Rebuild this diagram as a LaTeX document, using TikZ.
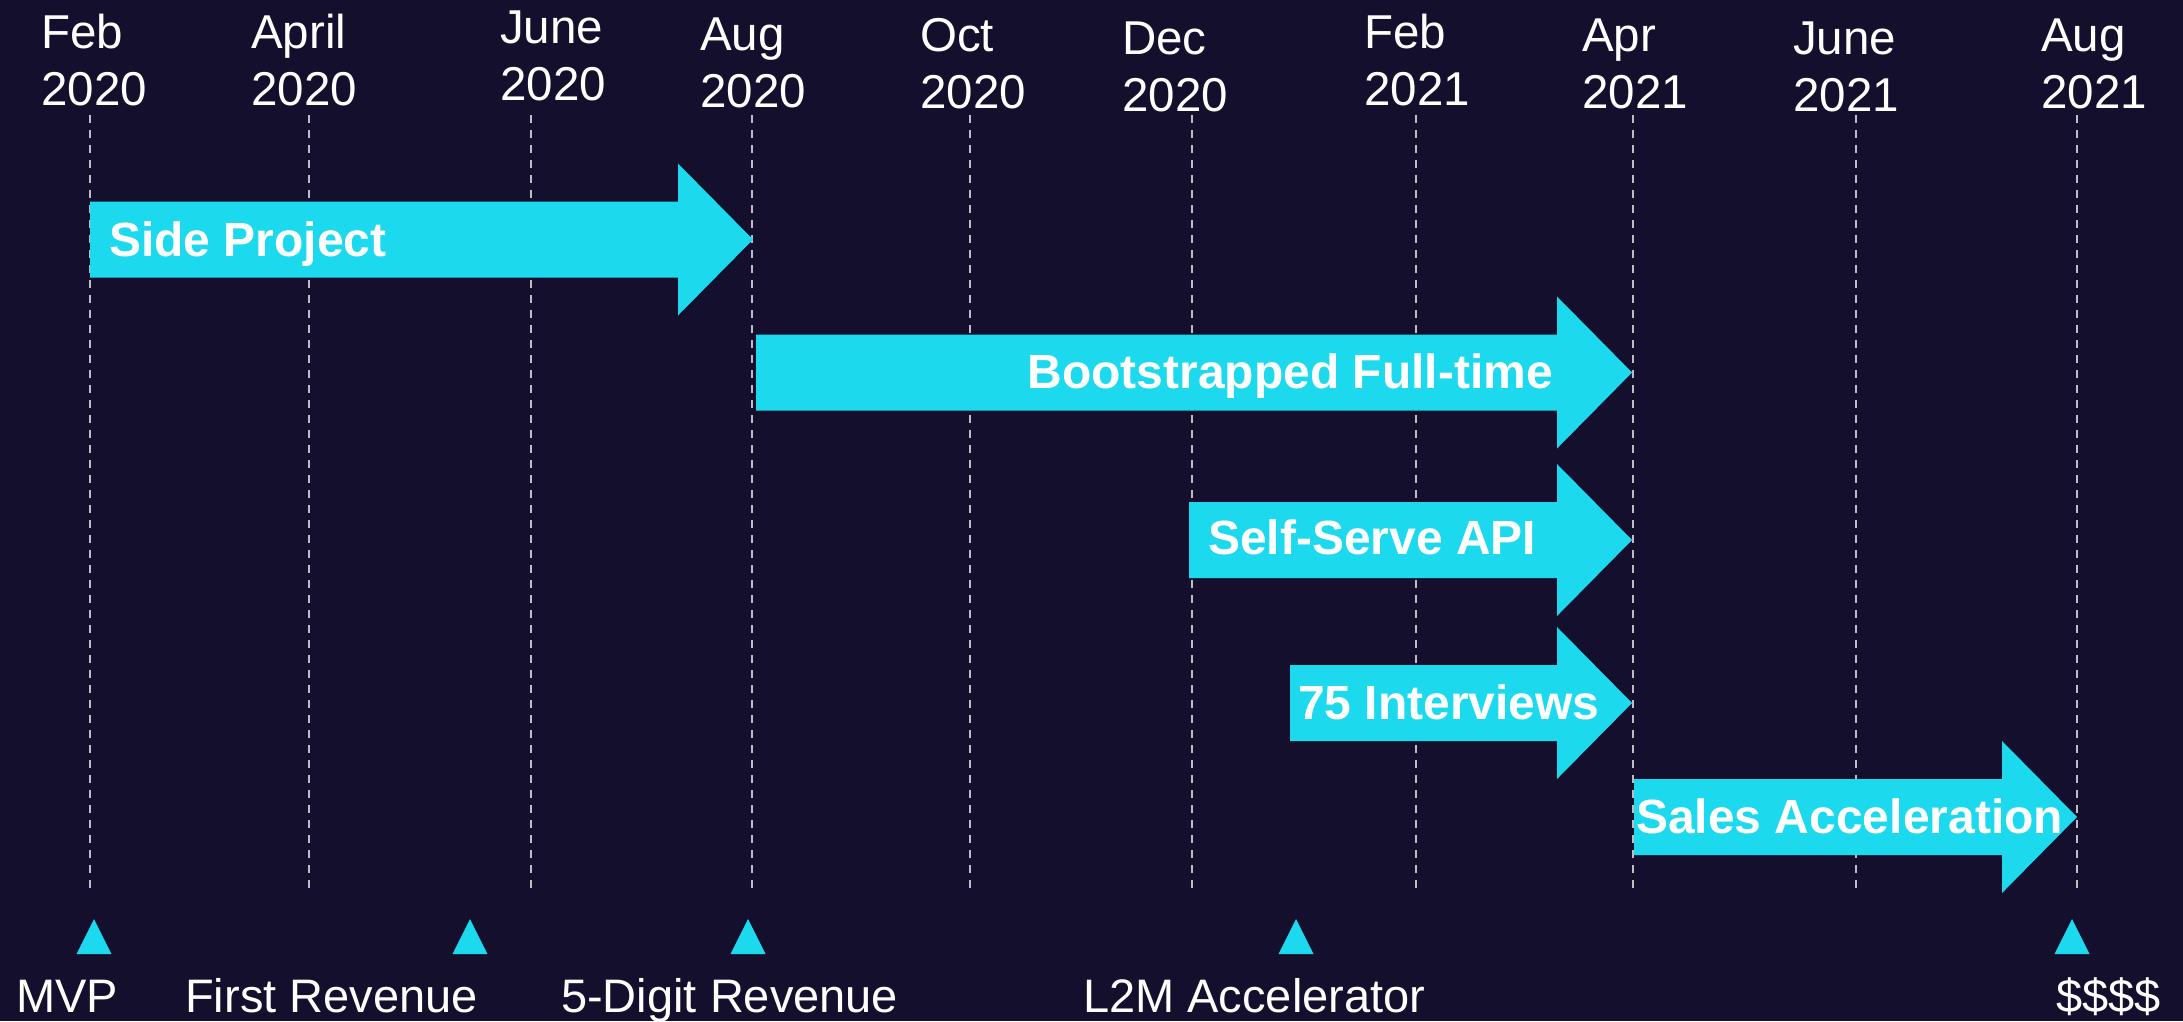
\documentclass[tikz,border=0pt]{standalone}
\usepackage{fontspec}
\setmainfont{Liberation Sans}
\definecolor{bgnavy}{HTML}{150F2E}
\definecolor{phasecyan}{HTML}{1DD9EE}
\definecolor{gridgray}{HTML}{BDBDC3}

% one phase bar: start x, tip x, centre y
\newcommand\phasearrow[3]{%
  \fill[phase] (#1,#3-38) -- (#2-75,#3-38) -- (#2-75,#3-76) -- (#2,#3)
    -- (#2-75,#3+76) -- (#2-75,#3+38) -- (#1,#3+38) -- cycle;}
% one milestone marker: apex x
\newcommand\milemark[1]{%
  \fill[milestone] (#1,919) -- (#1+17.5,954) -- (#1-17.5,954) -- cycle;}

\begin{document}
\begin{tikzpicture}[x=1pt,y=-1pt,
  datelbl/.style={anchor=base west, text=white, inner sep=0pt,
    font=\fontsize{47.5}{56}\selectfont},
  phaselbl/.style={text=white, inner sep=0pt,
    font=\bfseries\fontsize{48}{56}\selectfont},
  milelbl/.style={anchor=base west, text=white, inner sep=0pt,
    font=\fontsize{47}{56}\selectfont},
  gridline/.style={draw=gridgray, line width=1.8pt, dash pattern=on 8pt off 7pt},
  phase/.style={fill=phasecyan},
  milestone/.style={fill=phasecyan}]

\useasboundingbox (0,0) rectangle (2183,1021);
\fill[bgnavy] (0,0) rectangle (2183,1021);

% month grid
\foreach \gx in {90,309,531,752,970,1192,1416,1633,1856,2077}
  \draw[gridline] (\gx,115) -- (\gx,888);

% month / year headings
\node[datelbl] (m1) at (41,48)    {Feb};   \node[datelbl] (y1) at (41,105)   {2020};
\node[datelbl] (m2) at (251,48)   {April}; \node[datelbl] (y2) at (251,105)  {2020};
\node[datelbl] (m3) at (500,43)   {June};  \node[datelbl] (y3) at (500,100)  {2020};
\node[datelbl] (m4) at (700,50)   {Aug};   \node[datelbl] (y4) at (700,107)  {2020};
\node[datelbl] (m5) at (920,51)   {Oct};   \node[datelbl] (y5) at (920,108)  {2020};
\node[datelbl] (m6) at (1122,54)  {Dec};   \node[datelbl] (y6) at (1122,111) {2020};
\node[datelbl] (m7) at (1364,48)  {Feb};   \node[datelbl] (y7) at (1364,105) {2021};
\node[datelbl] (m8) at (1582,51)  {Apr};   \node[datelbl] (y8) at (1582,108) {2021};
\node[datelbl] (m9) at (1793,54)  {June};  \node[datelbl] (y9) at (1793,111) {2021};
\node[datelbl] (m10) at (2041,51) {Aug};   \node[datelbl] (y10) at (2041,108) {2021};

% phases
\phasearrow{90}{753}{239.5}
\phasearrow{756}{1632}{372.5}
\phasearrow{1189}{1632}{540}
\phasearrow{1290}{1632}{703}
\phasearrow{1634}{2077}{817}

\node[phaselbl, anchor=base west] (p1) at (109,256)  {Side Project};
\node[phaselbl, anchor=base east] (p2) at (1553,388) {Bootstrapped Full-time};
\node[phaselbl, anchor=base west] (p3) at (1208,554) {Self-Serve API};
\node[phaselbl, anchor=base west] (p4) at (1298,719) {75 Interviews};
\node[phaselbl, anchor=base west] (p5) at (1636,833) {Sales Acceleration};

% milestones
\milemark{94}
\milemark{470}
\milemark{748}
\milemark{1296}
\milemark{2072}

\node[milelbl] (s1) at (16,1012)   {MVP};
\node[milelbl] (s2) at (185,1012)  {First Revenue};
\node[milelbl] (s3) at (561,1012)  {5-Digit Revenue};
\node[milelbl] (s4) at (1083,1012) {L2M Accelerator};
\node[milelbl] (s5) at (2056,1012) {\$\$\$\$};
\end{tikzpicture}
\end{document}
